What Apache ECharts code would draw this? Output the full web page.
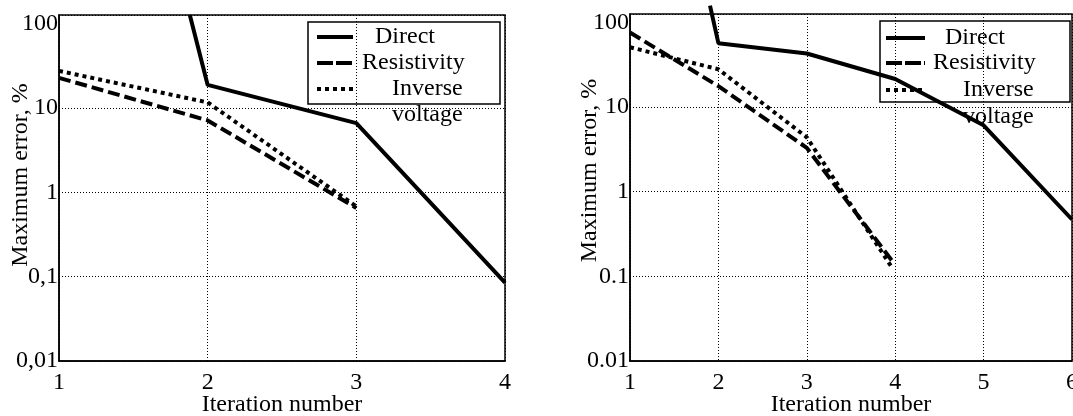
<!DOCTYPE html>
<html>
<head>
<meta charset="utf-8">
<script src="https://cdn.jsdelivr.net/npm/echarts@6/dist/echarts.min.js"></script>
<style>
  html, body { margin: 0; padding: 0; background: #fff; }
  #chart { width: 1073px; height: 416px; }
</style>
</head>
<body>
<div id="chart"></div>
<script>
// left panel (iterations 1..4)
var leftXTicks = ['1', '2', '3', '4'];
var leftYTicks = ['0,01', '0,1', '1', '10', '100'];
var leftDirectX = [1.88, 2, 3, 4];
var leftDirectY = [126, 18.7, 6.6, 0.085];
var leftResX = [1, 2, 3];
var leftResY = [22.7, 7.1, 0.65];
var leftInvX = [1, 2, 3];
var leftInvY = [27.4, 11.6, 0.68];

// right panel (iterations 1..6)
var rightXTicks = ['1', '2', '3', '4', '5', '6'];
var rightYTicks = ['0.01', '0.1', '1', '10', '100'];
var rightDirectX = [1.905, 2, 3, 4, 5, 6];
var rightDirectY = [158, 57, 43, 21.5, 6.1, 0.47];
var rightResX = [1, 2, 3, 3.97];
var rightResY = [76, 17.7, 3.3, 0.15];
var rightInvX = [1, 2, 3, 3.97];
var rightInvY = [51, 28, 4.4, 0.124];

var legendNames = ['Direct', 'Resistivity', 'Inverse', 'voltage'];

var FONT = 'Liberation Serif';
var decades = [0.01, 0.1, 1, 10, 100];

function pairs(xs, ys) {
  return xs.map(function (x, i) { return [x, ys[i]]; });
}

function yLabel(labels) {
  return function (v) {
    for (var i = 0; i < decades.length; i++) {
      if (Math.abs(Math.log10(v) - Math.log10(decades[i])) < 1e-6) return labels[i];
    }
    return '';
  };
}

function xLabel(labels) {
  return function (v) { return labels[Math.round(v) - 1] || ''; };
}

var dotted = { color: '#000', width: 1, type: [1, 2] };

function xAxisFor(idx, labels) {
  return {
    gridIndex: idx, type: 'value', min: 1, max: labels.length, interval: 1,
    name: 'Iteration number', nameLocation: 'middle', nameGap: 32, nameMoveOverlap: false,
    nameTextStyle: { fontFamily: FONT, fontSize: 24, color: '#000' },
    axisLine: { lineStyle: { color: '#000', width: 1.5 } },
    axisTick: { show: false },
    axisLabel: { fontFamily: FONT, fontSize: 24, color: '#000', margin: 10, formatter: xLabel(labels) },
    splitLine: { show: true, lineStyle: dotted }
  };
}

function yAxisFor(idx, labels, gap, shift) {
  return {
    gridIndex: idx, type: 'log', logBase: 10, min: 0.01, max: 126,
    name: 'Maximum error, %', nameLocation: 'middle', nameGap: gap, nameMoveOverlap: false,
    nameTextStyle: { fontFamily: FONT, fontSize: 24, color: '#000', padding: [0, 0, 0, shift] },
    axisLine: { lineStyle: { color: '#000', width: 1.5 } },
    axisTick: { show: false },
    axisLabel: { fontFamily: FONT, fontSize: 24, color: '#000', margin: 1, padding: [14, 0, 0, 0], showMaxLabel: false, formatter: yLabel(labels) },
    splitLine: { show: true, lineStyle: { color: ['#000', '#000', '#000', '#000', 'rgba(0,0,0,0)', '#000'], width: 1, type: [1, 2] } }
  };
}

function line(name, idx, data, type) {
  return {
    name: name, type: 'line', xAxisIndex: idx, yAxisIndex: idx,
    data: data, symbol: 'none', clip: false, silent: true,
    lineStyle: { color: '#000', width: 4, type: type, cap: 'butt' }
  };
}

function legendBox(x, y, w, h, sx0, sx1, rows, textX) {
  var els = [{
    type: 'rect', shape: { x: x, y: y, width: w, height: h },
    style: { fill: 'none', stroke: '#000', lineWidth: 1.5 }
  }];
  var dashes = [null, [16, 3], [4, 4]];
  for (var i = 0; i < 3; i++) {
    els.push({
      type: 'line', shape: { x1: sx0, y1: rows[i], x2: sx1, y2: rows[i] },
      style: { stroke: '#000', lineWidth: 4, lineDash: dashes[i] }
    });
  }
  for (var j = 0; j < 4; j++) {
    els.push({
      type: 'text', x: textX[j], y: rows[j],
      style: { text: legendNames[j], font: '24px "' + FONT + '"', fill: '#000', verticalAlign: 'middle' }
    });
  }
  return els;
}

var chart = echarts.init(document.getElementById('chart'));
chart.setOption({
  animation: false,
  grid: [
    { left: 59, top: 15, width: 446, height: 346, outerBoundsMode: 'none', show: true, borderColor: '#000', borderWidth: 1.5 },
    { left: 630, top: 14, width: 442, height: 347, outerBoundsMode: 'none', show: true, borderColor: '#000', borderWidth: 1.5 }
  ],
  xAxis: [xAxisFor(0, leftXTicks), xAxisFor(1, rightXTicks)],
  yAxis: [yAxisFor(0, leftYTicks, 26, 26), yAxisFor(1, rightYTicks, 28, 34)],
  series: [
    line('Direct', 0, pairs(leftDirectX, leftDirectY), 'solid'),
    line('Resistivity', 0, pairs(leftResX, leftResY), [12, 5]),
    line('Inverse voltage', 0, pairs(leftInvX, leftInvY), [4, 4]),
    line('Direct', 1, pairs(rightDirectX, rightDirectY), 'solid'),
    line('Resistivity', 1, pairs(rightResX, rightResY), [12, 5]),
    line('Inverse voltage', 1, pairs(rightInvX, rightInvY), [4, 4])
  ],
  graphic: legendBox(308, 22, 192, 82, 317, 353, [37, 63, 89, 115], [375, 362, 392, 392])
    .concat(legendBox(880, 21, 190, 81, 886, 925, [38, 63, 90, 117], [945, 933, 963, 963]))
});
</script>
</body>
</html>
